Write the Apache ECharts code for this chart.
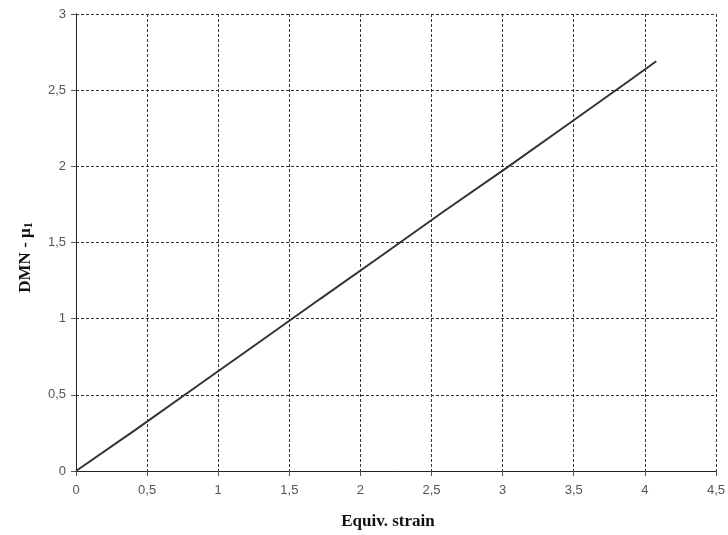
<!DOCTYPE html>
<html><head><meta charset="utf-8">
<script src="https://cdn.jsdelivr.net/npm/echarts@6/dist/echarts.min.js"></script>
<style>html,body{margin:0;padding:0;background:#fff}#c{width:728px;height:535px}</style>
</head><body><div id="c"></div>
<script>
const strain = [0, 0.42, 0.85, 1.28, 1.72, 2.15, 2.58, 3.02, 3.45, 3.88, 4.08];
const dmn    = [0, 0.272, 0.556, 0.84, 1.132, 1.415, 1.70, 1.985, 2.27, 2.555, 2.69];
const xLabelName = 'Equiv. strain';

const chart = echarts.init(document.getElementById('c'));
const fmt = v => String(v).replace('.', ',');
chart.setOption({
  animation: false,
  grid: {left: 76, top: 14, right: 9, bottom: 62.5},
  xAxis: {
    type: 'value', min: 0, max: 4.5, interval: 0.5,
    name: xLabelName, nameLocation: 'middle', nameGap: 42,
    nameTextStyle: {fontFamily: 'Liberation Serif', fontWeight: 'bold', fontSize: 17, color: '#111', padding: [0, 16, 0, 0]},
    axisLine: {lineStyle: {color: '#222', width: 1}},
    axisTick: {show: true, length: 5, lineStyle: {color: '#555'}},
    axisLabel: {formatter: fmt, color: '#555', fontFamily: 'Liberation Sans', fontSize: 13, margin: 13},
    splitLine: {show: true, lineStyle: {color: '#333', type: [3, 2], width: 1}}
  },
  yAxis: {
    type: 'value', min: 0, max: 3, interval: 0.5,
    name: '{a|DMN - μ}{s|1}', nameLocation: 'middle', nameGap: 41,
    nameTextStyle: {
      padding: [0, 30, 0, 0],
      rich: {
        a: {fontFamily: 'Liberation Serif', fontWeight: 'bold', fontSize: 17, color: '#111'},
        s: {fontFamily: 'Liberation Serif', fontWeight: 'bold', fontSize: 12, color: '#111', padding: [7, 0, 0, 0]}
      }
    },
    axisLine: {show: true, lineStyle: {color: '#222', width: 1}},
    axisTick: {show: true, length: 5, lineStyle: {color: '#555'}},
    axisLabel: {formatter: fmt, color: '#555', fontFamily: 'Liberation Sans', fontSize: 13, margin: 10},
    splitLine: {show: true, lineStyle: {color: '#333', type: [3, 2], width: 1}}
  },
  series: [{
    type: 'line',
    data: strain.map((x, i) => [x, dmn[i]]),
    showSymbol: false,
    lineStyle: {color: '#333', width: 2},
    z: 5
  }]
});
</script></body></html>
